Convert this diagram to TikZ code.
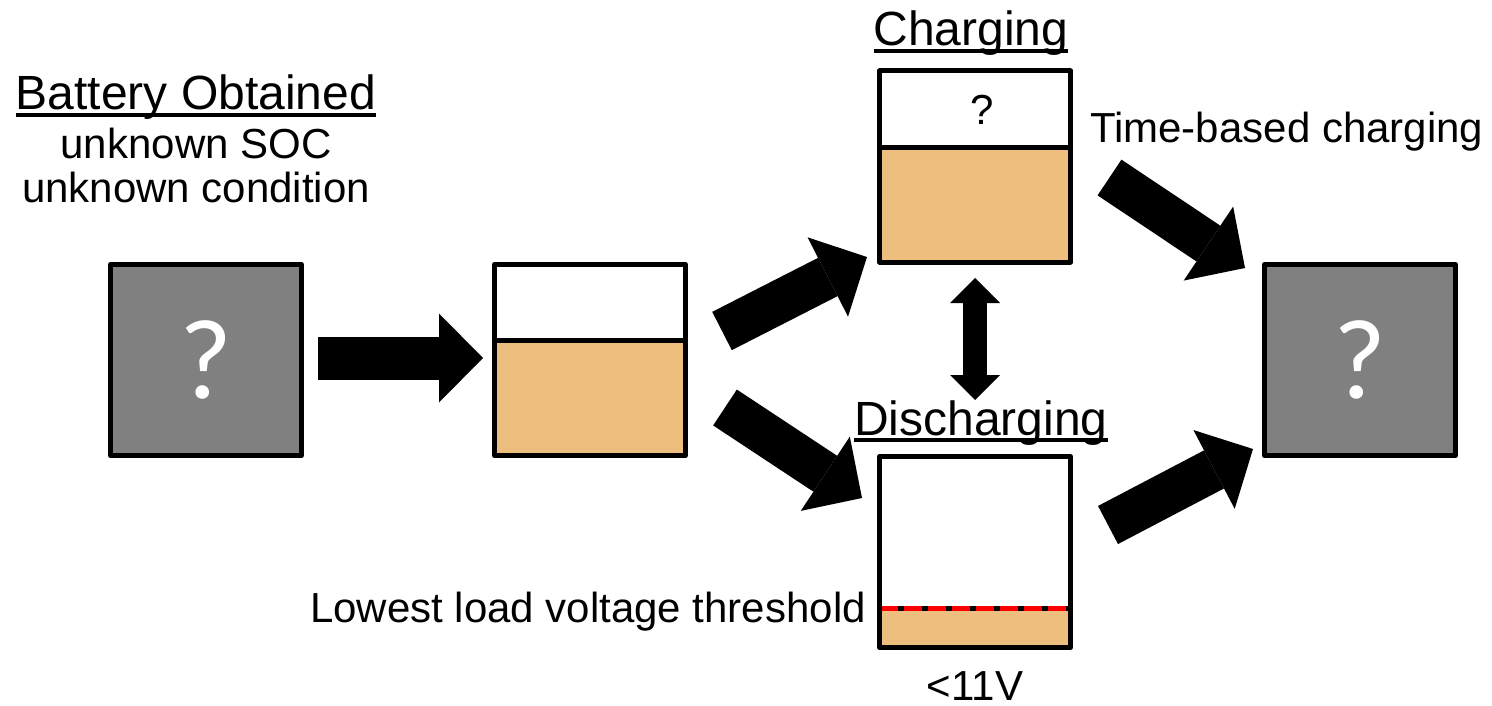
\documentclass[tikz,border=0pt]{standalone}
\usepackage{fontspec}
\setmainfont{Liberation Sans}
\newfontfamily\qfont{Carlito}
\usetikzlibrary{arrows.meta,calc}
\definecolor{orng}{RGB}{237,190,125}
\definecolor{boxgray}{RGB}{128,128,128}
\newcommand\myul[1]{\setbox0\hbox{#1}\rlap{\rule[-7pt]{\wd0}{4pt}}\box0}
\begin{document}
\begin{tikzpicture}[x=1pt,y=-1pt,
 box/.style={draw=black,line width=5pt,line join=round,minimum width=191pt,minimum height=191pt,inner sep=0pt},
 greybox/.style={box,fill=boxgray,text=white,font=\qfont\fontsize{114}{114}\selectfont},
 title/.style={inner sep=0pt,anchor=base,font=\fontsize{48}{52}\selectfont},
 body/.style={inner sep=0pt,anchor=base,font=\fontsize{42}{46}\selectfont},
 bigarrow/.style={line width=43pt,line cap=butt,-{Triangle[length=44pt,width=89pt,line width=0pt]}},
 dblarrow/.style={line width=24pt,line cap=butt,{Triangle[length=25pt,width=50pt,line width=0pt]}-{Triangle[length=25pt,width=50pt,line width=0pt]}},
]
\useasboundingbox (0,0) rectangle (1492,706);

% boxes
\node[greybox] (lbox) at (206,360) {?};
\node[greybox] (rbox) at (1360,360) {?};
\node[box, path picture={
  \fill[orng] ([yshift=-75.5pt]path picture bounding box.north west) rectangle (path picture bounding box.south east);
  \draw[line width=5pt] ([yshift=-75.5pt]path picture bounding box.north west) -- ([yshift=-75.5pt]path picture bounding box.north east);}]
  (mid) at (590,360) {};
\node[box, path picture={
  \fill[orng] ([yshift=-76.5pt]path picture bounding box.north west) rectangle (path picture bounding box.south east);
  \draw[line width=5pt] ([yshift=-76.5pt]path picture bounding box.north west) -- ([yshift=-76.5pt]path picture bounding box.north east);}]
  (chg) at (975,166.5) {};
\node[box, path picture={
  \fill[orng] ([yshift=-151.5pt]path picture bounding box.north west) rectangle (path picture bounding box.south east);
  \draw[line width=5pt] ([yshift=-151.5pt]path picture bounding box.north west) -- ([yshift=-151.5pt]path picture bounding box.north east);
  \draw[red,line width=5pt,dash pattern=on 18pt off 6pt] ([yshift=-151.5pt]path picture bounding box.north west) -- ([yshift=-151.5pt]path picture bounding box.north east);}]
  (dis) at (975,552) {};

% texts
\node[title] (bo) at (196,110) {\myul{Battery Obtained}};
\node[body] (soc) at (196,159) {unknown SOC};
\node[body] (cond) at (196,203) {unknown condition};
\node[title] (chgt) at (971,46) {\myul{Charging}};
\node[title] (dist) at (981,435) {\myul{Discharging}};
\node[body] (q) at (982,125) {?};
\node[body,anchor=base west] (tb) at (1090,143) {Time-based charging};
\node[body,anchor=base east] (low) at (866,622) {Lowest load voltage threshold};
\node[body] (v) at (975,700) {<11V};

% arrow ends
\coordinate (a1s) at (318,358);   \coordinate (a1e) at (483,358);
\coordinate (a2s) at (722,331);   \coordinate (a2e) at (867,257);
\coordinate (a3s) at (725,407.5); \coordinate (a3e) at (862,498);
\coordinate (a4s) at (1109.5,177.5); \coordinate (a4e) at (1245,268);
\coordinate (a5s) at (1108,525);  \coordinate (a5e) at (1253,449);
\coordinate (dbs) at (975,278);   \coordinate (dbe) at (975,400);

\draw[bigarrow] (a1s) -- (a1e);
\draw[bigarrow] (a2s) -- (a2e);
\draw[bigarrow] (a3s) -- (a3e);
\draw[bigarrow] (a4s) -- (a4e);
\draw[bigarrow] (a5s) -- (a5e);
\draw[dblarrow] (dbs) -- (dbe);
\end{tikzpicture}
\end{document}
